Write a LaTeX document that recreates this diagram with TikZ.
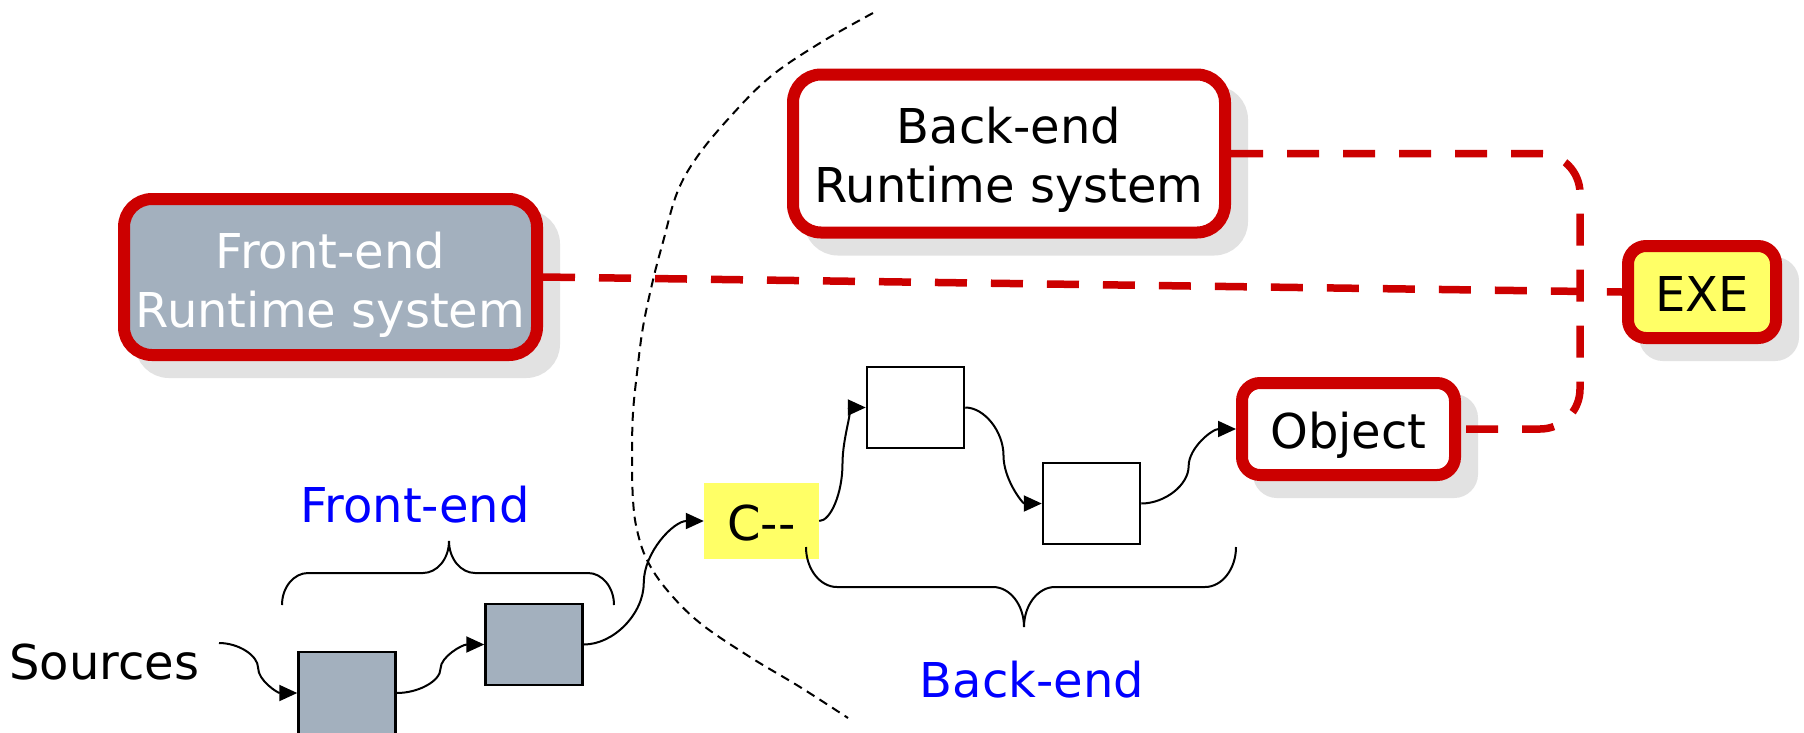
\documentclass[tikz,border=0pt]{standalone}
\usepackage{fontspec}
\setmainfont{DejaVu Sans}
\usetikzlibrary{arrows.meta,calc,shadows}

\definecolor{rtred}{HTML}{CC0000}
\definecolor{stagegray}{HTML}{A3B0BE}
\definecolor{hiyellow}{HTML}{FFFF66}
\definecolor{shadowgray}{HTML}{E2E2E2}

\begin{document}
\begin{tikzpicture}[x=1pt,y=1pt,
  every node/.style={font=\fontsize{48}{59}\selectfont, inner sep=0pt},
  rtbox/.style={draw=rtred, line width=12pt, align=center,
    drop shadow={shadow xshift=17pt, shadow yshift=-17pt, fill=shadowgray,
      draw=shadowgray, line width=12pt, opacity=1}},
  stagebox/.style={draw=black, line width=2.5pt, minimum width=97pt, minimum height=81pt},
  flow/.style={line width=2pt, -{Triangle[length=18pt,width=16pt]}},
  sconn/.style={to path={let \p1=(\tikztostart), \p2=(\tikztotarget),
      \n1={0.5*(\x1+\x2)}, \n2={0.5*(\y1+\y2)} in
      .. controls ({0.5*(\x1+\n1)},\y1) and (\n1,{\y1+0.25*(\y2-\y1)}) .. (\n1,\n2)
      .. controls (\n1,{\y1+0.75*(\y2-\y1)}) and ({0.5*(\n1+\x2)},\y2) .. (\p2)}},
  reddash/.style={draw=rtred, line width=7.5pt, dash pattern=on 32pt off 24pt},
  bracestroke/.style={line width=2pt},
  divider/.style={line width=2pt, dash pattern=on 9pt off 6pt},
]
% canvas
\fill[white] (0,0) rectangle (1804,-732);
\clip (0,0) rectangle (1804,-732);
\useasboundingbox (0,0) rectangle (1804,-732);

% front-end / back-end boundary
\draw[divider] plot[smooth, tension=0.6] coordinates {
  (873,-13) (820,-43) (770,-77) (730,-117) (697,-157) (677,-193) (663,-242)
  (653,-280) (643,-327) (637,-373) (633,-413) (632,-455) (633,-500) (637,-530)
  (647,-560) (667,-590) (700,-623) (750,-657) (800,-687) (848,-718)};

% runtime systems and products
\node[rtbox, fill=stagegray, text=white, minimum width=413pt, minimum height=156pt,
  rounded corners=28pt, text height=100pt, text depth=0pt] (fert) at (330.5,-277)
  {Front-end\\Runtime system};
\node[rtbox, fill=white, minimum width=432pt, minimum height=158pt,
  rounded corners=28pt, text height=97pt, text depth=0pt] (bert) at (1009,-153.5)
  {Back-end\\Runtime system};
\node[rtbox, fill=hiyellow, minimum width=148pt, minimum height=92pt,
  rounded corners=18pt, text height=38pt, text depth=0pt] (exe) at (1702,-292) {EXE};
\node[rtbox, fill=white, minimum width=213pt, minimum height=92pt,
  rounded corners=18pt, text height=38pt, text depth=0pt] (object) at (1348.5,-429) {Object};

% compilation stages
\node[anchor=base west] (sources) at (9,-679) {Sources};
\coordinate (srcout) at (219,-643);
\node[stagebox, fill=stagegray, minimum height=82pt] (gray1) at (347,-693) {};
\node[stagebox, fill=stagegray] (gray2) at (534,-644.5) {};
\node[fill=hiyellow, minimum width=115pt, minimum height=76pt, text height=38pt,
  text depth=0pt] (cmm) at (761.5,-521) {C-{}-};
\node[stagebox, fill=white] (white1) at (915.5,-407.5) {};
\node[stagebox, fill=white] (white2) at (1091.5,-503.5) {};

\draw[flow] (srcout) to[sconn] (gray1.west);
\draw[flow] (gray1.east) to[sconn] (gray2.west);
\draw[flow] (gray2.east) to[sconn] (cmm.west);
\draw[flow] (cmm.east) to[sconn] (white1.west);
\draw[flow] (white1.east) to[sconn] (white2.west);
\draw[flow] (white2.east) to[sconn] (object.west);

% linking
\draw[reddash] (fert.east) -- (exe.west);
\draw[reddash, rounded corners=40pt] (bert.east)
  -- ($(exe.west |- bert.east)+(-42,0)$)
  -- ($(exe.west |- object.east)+(-42,0)$)
  -- (object.east);

% braces and their captions
\draw[bracestroke] (282,-605) .. controls (282,-587) and (294,-573) .. (308,-573)
  -- (423,-573) .. controls (437,-573) and (449,-559) .. (449,-541)
  .. controls (449,-559) and (461,-573) .. (475,-573)
  -- (588,-573) .. controls (602,-573) and (614,-587) .. (614,-605);
\draw[bracestroke] (806,-547) .. controls (806,-569) and (820,-587) .. (837,-587)
  -- (993,-587) .. controls (1010,-587) and (1024,-605) .. (1024,-627)
  .. controls (1024,-605) and (1038,-587) .. (1055,-587)
  -- (1205,-587) .. controls (1222,-587) and (1236,-569) .. (1236,-547);
\node[anchor=base, text=blue] (felabel) at (415,-522) {Front-end};
\node[anchor=base, text=blue] (belabel) at (1032,-697) {Back-end};
\end{tikzpicture}
\end{document}
